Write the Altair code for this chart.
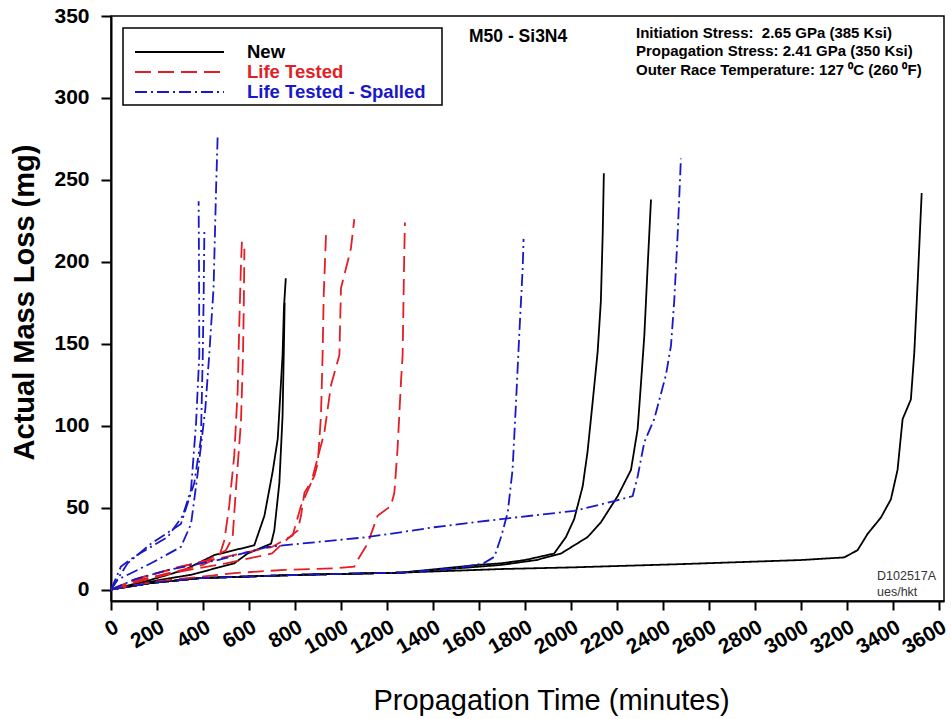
import altair as alt
import pandas as pd

FONT = "Liberation Sans, Arial, Helvetica, sans-serif"

# ---------------- data (minutes, mg) ----------------
# New (black, solid)
new_1_t = [0, 150, 320, 449, 623, 667, 703, 725, 746, 752, 760]
new_1_m = [0, 5, 12, 21, 27, 45, 72, 92, 143, 172, 190]
new_2_t = [0, 217, 348, 536, 594, 696, 710, 732, 746, 752, 755]
new_2_m = [0, 6, 9, 16, 22, 28, 36, 65, 106, 150, 175]
new_3_t = [0, 174, 391, 826, 1261, 1594, 1696, 1800, 1927, 1978, 2014, 2051, 2072, 2094, 2116, 2130, 2138, 2143]
new_3_m = [0, 4, 7, 9, 10.3, 15, 16, 18, 22, 32, 43, 63, 84, 114, 145, 176, 217, 254]
new_4_t = [0, 174, 391, 826, 1261, 1696, 1850, 1957, 2072, 2130, 2203, 2261, 2290, 2304, 2319, 2333, 2348]
new_4_m = [0, 4, 7, 9, 10.3, 15, 18, 22, 32, 41, 57, 73, 98, 125, 155, 196, 238]
new_5_t = [0, 174, 391, 826, 1261, 1696, 2000, 2478, 3000, 3188, 3246, 3290, 3348, 3391, 3420, 3442, 3478, 3493, 3507, 3525]
new_5_m = [0, 4, 7, 9, 10.3, 12.5, 13.5, 15.5, 18, 19.6, 24, 34, 44, 55, 73, 104, 116, 145, 186, 242]

# Life Tested (red, dashed)
life_1_t = [0, 100, 250, 400, 470, 493, 514, 536, 551, 558, 565, 570]
life_1_m = [0, 5, 10, 15, 20, 30, 51, 82, 122, 163, 198, 215]
life_2_t = [0, 120, 280, 420, 500, 529, 543, 565, 574, 578, 580]
life_2_m = [0, 7, 13, 18, 24, 32, 61, 102, 143, 180, 208]
life_3_t = [0, 150, 300, 500, 700, 768, 812, 826, 841, 884, 899, 913, 920, 925, 935]
life_3_m = [0, 6, 11, 16, 22, 31, 36, 45, 59, 69, 77, 106, 143, 180, 217]
life_4_t = [0, 150, 300, 500, 700, 790, 826, 870, 928, 957, 993, 1000, 1029, 1043, 1058]
life_4_m = [0, 8, 14, 20, 26, 33, 51, 65, 96, 125, 143, 184, 200, 208, 226]
life_5_t = [0, 200, 536, 754, 971, 1058, 1072, 1116, 1159, 1217, 1232, 1246, 1261, 1268, 1275, 1278]
life_5_m = [0, 5, 10, 12, 13, 14, 18, 28, 45, 51, 59, 86, 127, 143, 204, 224]

# Life Tested - Spalled (blue, dash-dot)
spall_1_t = [0, 43, 101, 246, 312, 348, 370, 384, 383, 381]
spall_1_m = [0, 14, 20, 32, 45, 61, 102, 143, 190, 237]
spall_2_t = [0, 72, 174, 304, 362, 391, 399, 403, 406]
spall_2_m = [0, 16, 28, 40, 65, 92, 143, 180, 219]
spall_3_t = [0, 29, 174, 304, 348, 377, 410, 427, 446, 457, 464]
spall_3_m = [0, 6, 16, 26, 40, 71, 110, 143, 184, 245, 278]
spall_4_t = [0, 100, 250, 464, 681, 1116, 1406, 1696, 2014, 2188, 2268, 2290, 2319, 2362, 2413, 2435, 2449, 2464, 2478]
spall_4_m = [0, 6, 12, 18, 26, 32, 38, 43, 48, 54, 57, 69, 90, 104, 131, 149, 176, 217, 263]
spall_5_t = [0, 174, 391, 826, 1261, 1500, 1620, 1667, 1696, 1725, 1746, 1761, 1775, 1790, 1794]
spall_5_m = [0, 4, 7, 9, 10.3, 13, 16, 20, 32, 47, 73, 114, 155, 196, 214]

groups = ["New", "Life Tested", "Life Tested - Spalled"]
colors = ["#000000", "#e31e24", "#1818c8"]
dashes = [[1, 0], [16, 7], [12, 4, 2, 4]]

x_ticks = list(range(0, 3601, 200))
y_ticks = list(range(0, 351, 50))

curves = [
    ("new_1", "New", new_1_t, new_1_m),
    ("new_2", "New", new_2_t, new_2_m),
    ("new_3", "New", new_3_t, new_3_m),
    ("new_4", "New", new_4_t, new_4_m),
    ("new_5", "New", new_5_t, new_5_m),
    ("life_1", "Life Tested", life_1_t, life_1_m),
    ("life_2", "Life Tested", life_2_t, life_2_m),
    ("life_3", "Life Tested", life_3_t, life_3_m),
    ("life_4", "Life Tested", life_4_t, life_4_m),
    ("life_5", "Life Tested", life_5_t, life_5_m),
    ("spall_1", "Life Tested - Spalled", spall_1_t, spall_1_m),
    ("spall_2", "Life Tested - Spalled", spall_2_t, spall_2_m),
    ("spall_3", "Life Tested - Spalled", spall_3_t, spall_3_m),
    ("spall_4", "Life Tested - Spalled", spall_4_t, spall_4_m),
    ("spall_5", "Life Tested - Spalled", spall_5_t, spall_5_m),
]

rows = []
for name, grp, ts, ms in curves:
    for i, (t, m) in enumerate(zip(ts, ms)):
        rows.append({"curve": name, "group": grp, "t": t, "m": m, "i": i})
df = pd.DataFrame(rows)

lines = alt.Chart(df).mark_line(strokeWidth=1.8).encode(
    x=alt.X("t:Q",
            scale=alt.Scale(domain=[0, 3622], nice=False, zero=False),
            axis=alt.Axis(values=x_ticks, format="d", labelAngle=-30, labelAlign="right",
                          labelBaseline="top", labelFontSize=21, labelFontWeight="bold",
                          labelFont=FONT, labelColor="black", labelPadding=6,
                          labelFlush=False, labelOverlap=False, labelBound=False,
                          tickSize=9, tickWidth=2, tickColor="black",
                          domainColor="black", domainWidth=2, grid=False,
                          title="Propagation Time (minutes)", titleFont=FONT,
                          titleFontSize=29, titleFontWeight="normal", titleColor="black",
                          titleX=440, titleY=108, titleBaseline="alphabetic",
                          titleAlign="center", titleAnchor="middle")),
    y=alt.Y("m:Q",
            scale=alt.Scale(domain=[-7, 350], nice=False, zero=False),
            axis=alt.Axis(values=y_ticks, format="d", labelFontSize=21, labelFontWeight="bold",
                          labelFont=FONT, labelColor="black", labelPadding=12,
                          labelFlush=False, labelOverlap=False,
                          tickSize=10, tickWidth=2, tickColor="black",
                          domainColor="black", domainWidth=2, grid=False,
                          title="Actual Mass Loss (mg)", titleFont=FONT,
                          titleFontSize=29, titleFontWeight="bold", titleColor="black",
                          titleAngle=270, titleX=-78, titleY=286,
                          titleBaseline="alphabetic", titleAlign="center")),
    color=alt.Color("group:N", scale=alt.Scale(domain=groups, range=colors), legend=None),
    strokeDash=alt.StrokeDash("group:N", scale=alt.Scale(domain=groups, range=dashes), legend=None),
    detail="curve:N",
    order="i:Q",
)

one = pd.DataFrame({"k": [0]})

def txt(s, x, y, size, color="black", weight="bold", align="left", baseline="middle"):
    return alt.Chart(one).mark_text(
        text=s, font=FONT, fontSize=size, fontWeight=weight, color=color,
        align=align, baseline=baseline
    ).encode(x=alt.value(x), y=alt.value(y))

def rule(x1, x2, y, color, dash):
    return alt.Chart(one).mark_rule(color=color, strokeWidth=1.8, strokeDash=dash).encode(
        x=alt.value(x1), x2=alt.value(x2), y=alt.value(y))

legend_box = alt.Chart(one).mark_rect(fill="white", stroke="black", strokeWidth=1.5).encode(
    x=alt.value(12), x2=alt.value(331), y=alt.value(12), y2=alt.value(89))

legend_y = [36, 56, 76]
layers = [lines, legend_box]
for g, c, d, yy in zip(groups, colors, dashes, legend_y):
    layers.append(rule(24, 113, yy, c, d))
    layers.append(txt(g, 136, yy, 18.5, color=c))

layers += [
    txt("M50 - Si3N4", 358, 21, 17.5),
    txt("Initiation Stress:\u00a0 2.65 GPa (385 Ksi)", 525, 17, 15),
    txt("Propagation Stress: 2.41 GPa (350 Ksi)", 525, 35, 15),
    txt("Outer Race Temperature: 127 \u2070C (260 \u2070F)", 525, 54, 15),
    txt("D102517A", 766, 560, 12.5, color="#333333", weight="normal"),
    txt("ues/hkt", 766, 576, 12.5, color="#333333", weight="normal"),
]

chart = alt.layer(*layers).properties(
    width=833, height=585,
    autosize=alt.AutoSizeParams(type="none"),
    padding={"left": 111, "top": 16, "right": 7, "bottom": 118},
    background="white",
).configure_view(stroke="black", strokeWidth=1.5)

chart.save("out.html", embed_options={"renderer": "svg", "actions": False})
